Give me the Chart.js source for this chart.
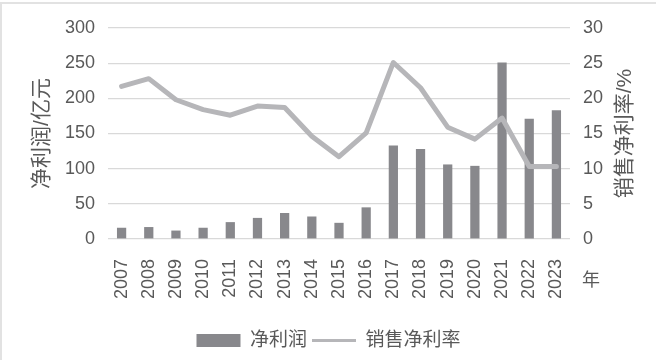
<!DOCTYPE html>
<html>
<head>
<meta charset="utf-8">
<script src="https://cdn.jsdelivr.net/npm/chart.js@4"></script>
<style>
  html, body { margin: 0; padding: 0; background: #ffffff; }
  #wrap { position: relative; width: 657px; height: 360px; }
  #chart { position: absolute; left: 0; top: 0; }
  #bt { position: absolute; left: 0; top: 2px; width: 656px; height: 2px; background: #e2e2e2; }
  #bl { position: absolute; left: 0; top: 2px; width: 2px; height: 358px; background: #e2e2e2; }
</style>
</head>
<body>
<div id="wrap">
  <canvas id="chart" width="657" height="360"></canvas>
  <div id="bt"></div>
  <div id="bl"></div>
</div>
<script>
const years = ['2007','2008','2009','2010','2011','2012','2013','2014','2015','2016','2017','2018','2019','2020','2021','2022','2023'];
const netProfit = [16, 17, 12, 16, 24, 30, 37, 32, 23, 45, 133, 128, 106, 104, 251, 171, 183];
const netMargin = [21.7, 22.8, 19.8, 18.4, 17.6, 18.9, 18.7, 14.6, 11.7, 15.1, 25.1, 21.5, 15.9, 14.2, 17.2, 10.3, 10.3];
const leftAxisTitle = '净利润/亿元';
const rightAxisTitle = '销售净利率/%';
const xUnitLabel = '年';
const seriesNames = ['净利润', '销售净利率'];

const FONT = "'Liberation Sans', 'Noto Sans CJK SC', sans-serif";
const TEXT = '#595959';
const BAR = '#88888c';
const LINE = '#b6b6b9';

const extraText = {
  id: 'extraText',
  afterDraw(chart) {
    const ctx = chart.ctx;
    const ca = chart.chartArea;
    const cy = (ca.top + ca.bottom) / 2;
    ctx.save();
    ctx.fillStyle = TEXT;
    ctx.font = '21px ' + FONT;
    ctx.textAlign = 'center';
    ctx.textBaseline = 'middle';
    ctx.save();
    ctx.translate(42, cy);
    ctx.rotate(-Math.PI / 2);
    ctx.fillText(leftAxisTitle, 0, 0);
    ctx.restore();
    ctx.save();
    ctx.translate(625, cy);
    ctx.rotate(-Math.PI / 2);
    ctx.fillText(rightAxisTitle, 0, 0);
    ctx.restore();
    ctx.font = '18px ' + FONT;
    ctx.fillText(xUnitLabel, 591, 281);
    ctx.restore();
  }
};

new Chart(document.getElementById('chart'), {
  data: {
    labels: years,
    datasets: [
      {
        type: 'line',
        label: seriesNames[1],
        data: netMargin,
        yAxisID: 'y2',
        borderColor: LINE,
        backgroundColor: LINE,
        borderWidth: 5,
        pointRadius: 0,
        tension: 0,
        borderJoinStyle: 'round',
        borderCapStyle: 'round',
        order: 0
      },
      {
        type: 'bar',
        label: seriesNames[0],
        data: netProfit,
        yAxisID: 'y',
        backgroundColor: BAR,
        categoryPercentage: 1,
        barPercentage: 0.34,
        order: 1
      }
    ]
  },
  options: {
    responsive: false,
    animation: false,
    layout: { padding: { top: 28, bottom: 0, left: 0, right: 0 } },
    plugins: {
      tooltip: { enabled: false },
      legend: {
        position: 'bottom',
        labels: {
          usePointStyle: true,
          pointStyleWidth: 44,
          boxHeight: 13,
          padding: 5,
          color: TEXT,
          font: { size: 19, family: FONT },
          generateLabels() {
            return [
              { text: seriesNames[0], fillStyle: BAR, strokeStyle: BAR, lineWidth: 0, pointStyle: 'rect', fontColor: TEXT, datasetIndex: 1 },
              { text: seriesNames[1], fillStyle: LINE, strokeStyle: LINE, lineWidth: 3, pointStyle: 'line', fontColor: TEXT, datasetIndex: 0 }
            ];
          }
        }
      }
    },
    scales: {
      x: {
        grid: { display: false },
        border: { display: false },
        ticks: {
          color: TEXT,
          font: { size: 18, family: FONT },
          minRotation: 90,
          maxRotation: 90,
          padding: 12,
          autoSkip: false
        },
        afterFit(s) { s.height = 87; }
      },
      y: {
        position: 'left',
        min: 0,
        max: 300,
        ticks: { stepSize: 50, color: TEXT, font: { size: 18, family: FONT }, padding: 13 },
        grid: { color: '#d9d9d9', lineWidth: 1.2, drawTicks: false },
        border: { display: false },
        afterFit(s) { s.width = 108; }
      },
      y2: {
        position: 'right',
        min: 0,
        max: 30,
        ticks: { stepSize: 5, color: TEXT, font: { size: 18, family: FONT }, padding: 13 },
        grid: { display: false, drawTicks: false },
        border: { display: false },
        afterFit(s) { s.width = 87; }
      }
    }
  },
  plugins: [extraText]
});
</script>
</body>
</html>
